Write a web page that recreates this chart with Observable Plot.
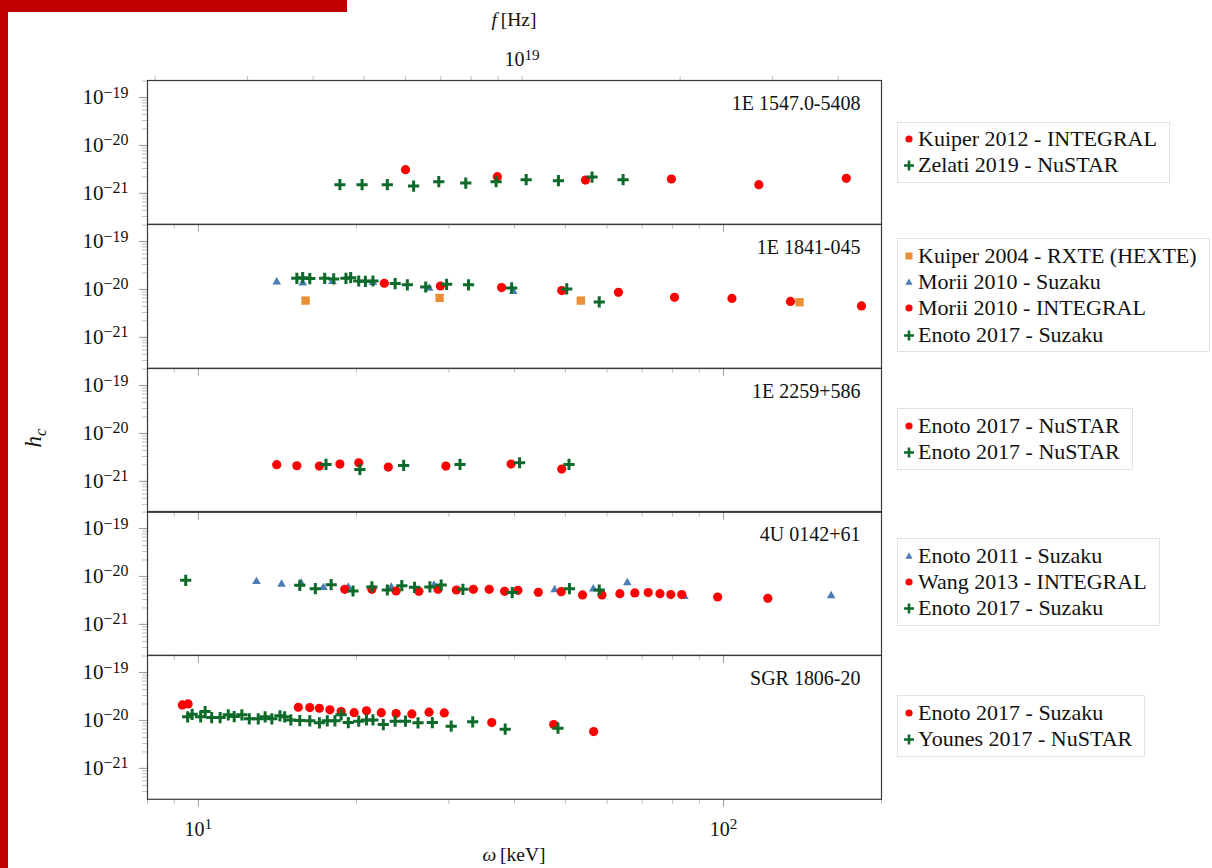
<!DOCTYPE html>
<html><head><meta charset="utf-8">
<script src="https://cdn.jsdelivr.net/npm/d3@7"></script>
<script src="https://cdn.jsdelivr.net/npm/@observablehq/plot@0.6"></script>
<style>
html,body{margin:0;padding:0;background:#fff;}
body{width:1212px;height:868px;overflow:hidden;position:relative;font-family:"Liberation Serif",serif;color:#111;}
.bar{position:absolute;background:#c00000;}
.panel{position:absolute;left:0;}
.legend{position:absolute;left:897px;background:#fff;border:1px solid #e2e2e2;padding:3.5px 12px 3.5px 6px;font-size:22px;white-space:nowrap;font-family:"Liberation Serif",serif;}
.legend .row{height:26.3px;display:flex;align-items:center;}
.legend svg{width:10px;height:12px;margin-right:4px;flex:none;overflow:visible;}
.lab{position:absolute;font-size:19.5px;white-space:nowrap;transform:translate(-50%,-50%);font-family:"Liberation Serif",serif;}
</style></head><body>
<div class="bar" style="left:0;top:0;width:347px;height:12px"></div>
<div class="bar" style="left:0;top:0;width:8px;height:868px"></div>
<div id="root"></div>
<script>
// ---------- data (ω in keV, h_c dimensionless) ----------
const sources = ["1E 1547.0-5408", "1E 1841-045", "1E 2259+586", "4U 0142+61", "SGR 1806-20"];

// 1E 1547.0-5408
const kuiper2012_w = [24.8, 37.1, 54.6, 79.6, 116.8, 171.4];
const kuiper2012_h = [2.83e-21, 2.02e-21, 1.72e-21, 1.81e-21, 1.38e-21, 1.87e-21];
const zelati2019_w = [18.6, 20.5, 22.9, 25.7, 28.7, 32.3, 36.9, 42.1, 48.5, 56.2, 64.4];
const zelati2019_h = [1.38e-21, 1.38e-21, 1.38e-21, 1.29e-21, 1.59e-21, 1.49e-21, 1.59e-21, 1.75e-21, 1.67e-21, 1.99e-21, 1.75e-21];

// 1E 1841-045
const kuiper2004_w = [16.0, 28.8, 53.5, 139.6];
const kuiper2004_h = [5.31e-21, 6.04e-21, 5.31e-21, 4.90e-21];
const morii2010s_w = [14.1, 15.8, 18.0, 21.5, 27.5, 39.8];
const morii2010s_h = [1.30e-20, 1.24e-20, 1.32e-20, 1.26e-20, 9.6e-21, 8.2e-21];
const morii2010i_w = [22.6, 28.9, 37.8, 49.2, 63.1, 80.7, 103.8, 134.2, 183.2];
const morii2010i_h = [1.22e-20, 1.07e-20, 9.9e-21, 8.6e-21, 7.9e-21, 6.2e-21, 5.9e-21, 5.1e-21, 4.1e-21];
const enoto2017s1_w = [15.4, 15.8, 16.3, 17.4, 18.1, 19.1, 19.5, 20.2, 20.8, 21.5, 23.7, 25.0, 27.1, 29.7, 32.7, 39.5, 50.3, 58.0];
const enoto2017s1_h = [1.55e-20, 1.60e-20, 1.53e-20, 1.55e-20, 1.50e-20, 1.55e-20, 1.60e-20, 1.36e-20, 1.34e-20, 1.36e-20, 1.20e-20, 1.13e-20, 1.02e-20, 1.16e-20, 1.13e-20, 9.75e-21, 9.3e-21, 4.98e-21];

// 1E 2259+586
const enoto2017n1_w = [14.1, 15.4, 17.0, 18.6, 20.2, 23.0, 29.6, 39.4, 49.2];
const enoto2017n1_h = [2.02e-21, 1.92e-21, 1.89e-21, 2.08e-21, 2.22e-21, 1.80e-21, 1.89e-21, 2.08e-21, 1.64e-21];
const enoto2017n2_w = [17.5, 20.3, 24.6, 31.5, 40.9, 50.8];
const enoto2017n2_h = [2.05e-21, 1.61e-21, 1.95e-21, 2.05e-21, 2.22e-21, 2.05e-21];

// 4U 0142+61
const enoto2011_w = [12.9, 14.4, 15.7, 17.3, 19.3, 23.3, 28.1, 47.7, 56.5, 65.6, 84.3, 160.4];
const enoto2011_h = [7.07e-21, 6.21e-21, 6.52e-21, 5.30e-21, 5.38e-21, 5.38e-21, 5.93e-21, 4.81e-21, 4.97e-21, 6.73e-21, 3.44e-21, 3.60e-21];
const wang2013_w = [19.0, 21.4, 23.8, 26.3, 28.6, 31.0, 33.4, 35.8, 38.3, 40.6, 44.4, 49.1, 53.9, 58.7, 63.5, 67.8, 71.9, 75.7, 79.4, 83.3, 97.5, 121.5];
const wang2013_h = [4.89e-21, 4.89e-21, 4.51e-21, 4.44e-21, 4.89e-21, 4.73e-21, 4.89e-21, 4.89e-21, 4.44e-21, 4.66e-21, 4.23e-21, 4.37e-21, 3.73e-21, 3.73e-21, 3.97e-21, 4.10e-21, 4.17e-21, 3.97e-21, 3.79e-21, 3.79e-21, 3.38e-21, 3.17e-21];
const enoto2017s2_w = [9.46, 15.6, 16.7, 17.9, 19.7, 21.4, 22.9, 24.4, 25.8, 27.6, 29.0, 31.9, 39.6, 50.9, 58.0];
const enoto2017s2_h = [7.53e-21, 5.93e-21, 5.05e-21, 6.11e-21, 4.51e-21, 5.47e-21, 4.73e-21, 5.83e-21, 5.38e-21, 5.47e-21, 6.01e-21, 4.89e-21, 4.17e-21, 5.05e-21, 4.73e-21];

// SGR 1806-20
const enoto2017s3_w = [9.32, 9.56, 15.5, 16.3, 17.0, 17.8, 18.7, 19.8, 20.9, 22.3, 23.8, 25.5, 27.5, 29.4, 36.2, 47.5, 56.6];
const enoto2017s3_h = [1.91e-20, 2.01e-20, 1.71e-20, 1.68e-20, 1.63e-20, 1.51e-20, 1.39e-20, 1.32e-20, 1.44e-20, 1.32e-20, 1.26e-20, 1.24e-20, 1.35e-20, 1.30e-20, 8.2e-21, 7.45e-21, 5.32e-21];
const younes2017_w = [9.54, 9.73, 10.1, 10.3, 10.6, 11.0, 11.4, 11.7, 12.1, 12.5, 13.0, 13.4, 13.8, 14.3, 14.6, 15.0, 15.6, 16.3, 17.0, 17.6, 18.2, 18.7, 19.3, 20.2, 20.9, 21.5, 22.5, 23.7, 24.8, 26.2, 27.9, 30.3, 33.3, 38.4, 48.4];
const younes2017_h = [1.08e-20, 1.22e-20, 1.08e-20, 1.39e-20, 1.04e-20, 1.04e-20, 1.19e-20, 1.09e-20, 1.19e-20, 9.8e-21, 9.8e-21, 1.08e-20, 9.8e-21, 1.13e-20, 1.08e-20, 9.3e-21, 9.0e-21, 8.9e-21, 8.1e-21, 8.9e-21, 8.9e-21, 1.19e-20, 8.2e-21, 8.75e-21, 9.3e-21, 9.3e-21, 7.45e-21, 8.75e-21, 8.75e-21, 8.1e-21, 8.2e-21, 6.88e-21, 8.5e-21, 5.95e-21, 6.25e-21];

// axis ticks
const xMajor = [10, 100];
const xMinor = [8, 9, 20, 30, 40, 50, 60, 70, 80, 90, 200];
const yMajor = [1e-21, 1e-20, 1e-19];
const yMinor = [3e-22,4e-22,5e-22,6e-22,7e-22,8e-22,9e-22,2e-21,3e-21,4e-21,5e-21,6e-21,7e-21,8e-21,9e-21,2e-20,3e-20,4e-20,5e-20,6e-20,7e-20,8e-20,9e-20,2e-19];
const fTicksHz = [2e18,3e18,4e18,5e18,6e18,7e18,8e18,9e18,1e19,2e19,3e19,4e19];
const KEV_TO_HZ = 2.417989e17;

// ---------- styling ----------
const styles = {
  circle:   {symbol: "circle",   fill: "#ff0000", r: 4.6},
  triangle: {symbol: "triangle", fill: "#4a7db5", r: 3.2},
  square:   {symbol: "square",   fill: "#ea8f35", r: 4.7},
  plus:     {symbol: "plus",     stroke: "#0d6a2a", strokeWidth: 3, r: 3.7}
};

const panels = [
  {source: sources[0], series: [
    {label: "Kuiper 2012 - INTEGRAL", kind: "circle", w: kuiper2012_w, h: kuiper2012_h},
    {label: "Zelati 2019 - NuSTAR", kind: "plus", w: zelati2019_w, h: zelati2019_h}]},
  {source: sources[1], series: [
    {label: "Kuiper 2004 - RXTE (HEXTE)", kind: "square", w: kuiper2004_w, h: kuiper2004_h},
    {label: "Morii 2010 - Suzaku", kind: "triangle", w: morii2010s_w, h: morii2010s_h},
    {label: "Morii 2010 - INTEGRAL", kind: "circle", w: morii2010i_w, h: morii2010i_h},
    {label: "Enoto 2017 - Suzaku", kind: "plus", w: enoto2017s1_w, h: enoto2017s1_h}]},
  {source: sources[2], series: [
    {label: "Enoto 2017 - NuSTAR", kind: "circle", w: enoto2017n1_w, h: enoto2017n1_h},
    {label: "Enoto 2017 - NuSTAR", kind: "plus", w: enoto2017n2_w, h: enoto2017n2_h}]},
  {source: sources[3], series: [
    {label: "Enoto 2011 - Suzaku", kind: "triangle", w: enoto2011_w, h: enoto2011_h},
    {label: "Wang 2013 - INTEGRAL", kind: "circle", w: wang2013_w, h: wang2013_h},
    {label: "Enoto 2017 - Suzaku", kind: "plus", w: enoto2017s2_w, h: enoto2017s2_h}]},
  {source: sources[4], series: [
    {label: "Enoto 2017 - Suzaku", kind: "circle", w: enoto2017s3_w, h: enoto2017s3_h},
    {label: "Younes 2017 - NuSTAR", kind: "plus", w: younes2017_w, h: younes2017_h}]}
];

const legendTops = [121.5, 238, 408, 538, 695];

// ---------- layout ----------
const W = 1212, ML = 147, MR = W - 881;
const TOP0 = 80, PH = 143.8;
const yDomain = [Math.pow(10, -21.6875), Math.pow(10, -18.6875)];
const root = document.getElementById("root");

function supText(svg) {
  svg.querySelectorAll("text").forEach(t => {
    const m = /^10\^(-?\d+)$/.exec(t.textContent);
    if (m) {
      while (t.firstChild) t.removeChild(t.firstChild);
      t.appendChild(document.createTextNode("10"));
      const ts = document.createElementNS("http://www.w3.org/2000/svg", "tspan");
      ts.setAttribute("dy", "-0.42em");
      ts.setAttribute("font-size", "0.76em");
      ts.textContent = m[1].replace("-", "\u2212");
      t.appendChild(ts);
    }
  });
}

panels.forEach((p, i) => {
  const mt = i === 0 ? 80 : 14;
  const mb = i === 4 ? (868 - (TOP0 + 5 * PH)) : 14;
  const top = TOP0 + i * PH;
  const marks = [];
  marks.push(Plot.axisY(yMinor, {tickSize: 5, tickFormat: () => "", stroke: "#bdbdbd", label: null}));
  marks.push(Plot.axisY(yMajor, {tickSize: 8, tickPadding: 11, stroke: "#9a9a9a", fill: "#111", fontSize: 21, dy: 2,
    tickFormat: d => "10^" + Math.round(Math.log10(d)), label: null}));
  marks.push(Plot.axisX(xMinor, {anchor: "bottom", tickSize: 5, tickFormat: () => "", stroke: "#bdbdbd", label: null}));
  marks.push(Plot.axisX(xMajor, {anchor: "bottom", tickSize: 8, tickPadding: 14, stroke: "#9a9a9a", fill: "#111", fontSize: 20,
    tickFormat: i === 4 ? (d => "10^" + Math.round(Math.log10(d))) : (() => ""), label: null}));
  if (i === 0) {
    marks.push(Plot.axisX(fTicksHz.map(f => f / KEV_TO_HZ), {anchor: "top", tickSize: 5, tickPadding: 9, stroke: "#bdbdbd",
      fill: "#111", fontSize: 20,
      tickFormat: w => Math.abs(Math.log10(w * KEV_TO_HZ) - 19) < 1e-6 ? "10^19" : "", label: null}));
  }
  p.series.forEach(s => {
    const st = styles[s.kind];
    const rows = s.w.map((w, k) => ({w, h: s.h[k]}));
    marks.push(Plot.dot(rows, {x: "w", y: "h", ...st}));
  });
  marks.push(Plot.frame({stroke: "#3a3a3a", strokeWidth: 1.2}));
  marks.push(Plot.text([p.source], {text: d => d, frameAnchor: "top-right", textAnchor: "end", lineAnchor: "middle",
    dx: -21, dy: 23, fontSize: 20, fill: "#111"}));

  const svg = Plot.plot({
    width: W, height: mt + PH + mb,
    marginLeft: ML, marginRight: MR, marginTop: mt, marginBottom: mb,
    x: {type: "log", domain: [8, 200], axis: null},
    y: {type: "log", domain: yDomain, axis: null},
    style: {background: "transparent", fontFamily: "'Liberation Serif', serif", overflow: "visible"},
    marks
  });
  supText(svg);
  const div = document.createElement("div");
  div.className = "panel";
  div.style.top = (top - mt) + "px";
  div.appendChild(svg);
  root.appendChild(div);

  // legend
  const lg = document.createElement("div");
  lg.className = "legend";
  lg.style.top = legendTops[i] + "px";
  p.series.forEach(s => {
    const row = document.createElement("div");
    row.className = "row";
    let sw = "";
    if (s.kind === "circle") sw = `<circle cx="5" cy="6" r="3.6" fill="${styles.circle.fill}"/>`;
    if (s.kind === "square") sw = `<rect x="1.5" y="2.5" width="7" height="7" fill="${styles.square.fill}"/>`;
    if (s.kind === "triangle") sw = `<path d="M5,2.6L8.6,8.8L1.4,8.8Z" fill="${styles.triangle.fill}"/>`;
    if (s.kind === "plus") sw = `<path d="M0,6.5H10M5,1.5V11.5" stroke="${styles.plus.stroke}" stroke-width="2.6"/>`;
    row.innerHTML = `<svg viewBox="0 0 10 12">${sw}</svg><span>${s.label}</span>`;
    lg.appendChild(row);
  });
  document.body.appendChild(lg);
});

// axis titles
function lab(html, x, y, extra) {
  const d = document.createElement("div");
  d.className = "lab";
  d.style.left = x + "px"; d.style.top = y + "px";
  if (extra) Object.assign(d.style, extra);
  d.innerHTML = html;
  document.body.appendChild(d);
}
lab('<i>f</i>&#8201;[Hz]', 514, 20);
lab('<i>ω</i>&#8201;[keV]', 514, 855);
lab('<i>h</i><sub style="font-size:0.72em;vertical-align:-0.25em"><i>c</i></sub>', 36, 438,
  {transform: "translate(-50%,-50%) rotate(-90deg)", fontSize: "23px"});
</script>
</body></html>
